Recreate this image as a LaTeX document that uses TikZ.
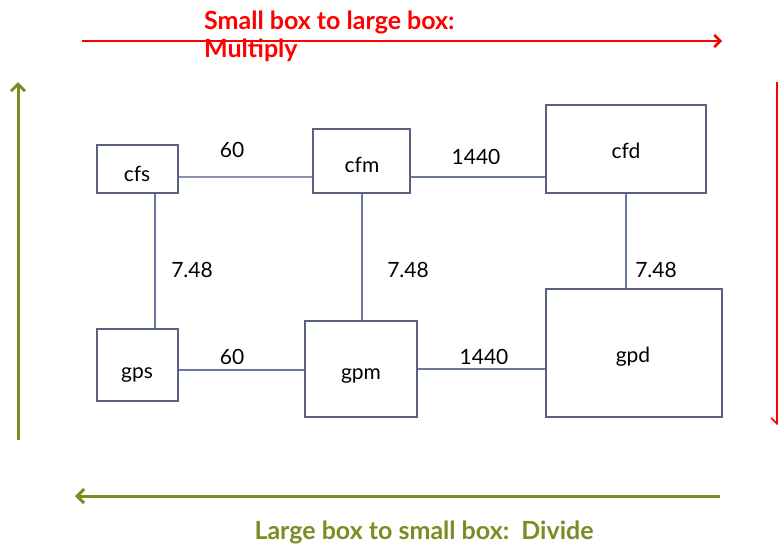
\documentclass[tikz,border=0pt]{standalone}
\usepackage{fontspec}
\setmainfont{Lato}
\usetikzlibrary{arrows.meta}
\definecolor{boxc}{HTML}{59617F}
\definecolor{linec}{HTML}{6B77A0}
\definecolor{olivec}{HTML}{7D8B22}
\definecolor{redc}{HTML}{FF0000}
\begin{document}
\begin{tikzpicture}[x=1pt,y=-1pt,
  box/.style={draw=boxc,line width=1.8pt,inner sep=0pt},
  boxtext/.style={font=\fontsize{21}{24}\selectfont,inner sep=0pt},
  link/.style={draw=linec,line width=2pt},
  thinlink/.style={draw=linec!80,line width=1.4pt},
  num/.style={font=\fontsize{21}{24}\selectfont,inner sep=0pt},
  redarrow/.style={draw=redc,-{Straight Barb[length=6pt,width=12pt]}},
  greenarrow/.style={draw=olivec,line width=3pt,-{Straight Barb[length=7pt,width=14pt]}}]
\useasboundingbox (0,0) rectangle (778,546);
% boxes
\node[box,minimum width=81pt,minimum height=48pt] (cfs) at (137.5,169) {};
\node[box,minimum width=97pt,minimum height=64pt] (cfm) at (361.5,161) {};
\node[box,minimum width=160pt,minimum height=88pt] (cfd) at (626,149) {};
\node[box,minimum width=81pt,minimum height=72pt] (gps) at (137.5,365) {};
\node[box,minimum width=112pt,minimum height=96pt] (gpm) at (361,369) {};
\node[box,minimum width=176pt,minimum height=128pt] (gpd) at (634,353) {};
\node[boxtext] (tcfs) at (137,174) {cfs};
\node[boxtext] (tcfm) at (362,165) {cfm};
\node[boxtext] (tcfd) at (626,151) {cfd};
\node[boxtext] (tgps) at (137,375) {gps};
\node[boxtext] (tgpm) at (361,376) {gpm};
\node[boxtext] (tgpd) at (633,357) {gpd};
% connectors
\draw[thinlink] (cfs.east |- 0,177) -- (cfm.west |- 0,177);
\draw[link] (cfm.east |- 0,177) -- (cfd.west |- 0,177);
\draw[link] (cfs.south -| 155,0) -- (gps.north -| 155,0);
\draw[link] (cfm.south -| 362,0) -- (gpm.north -| 362,0);
\draw[link] (cfd.south -| 626,0) -- (gpd.north -| 626,0);
\draw[link] (gps.east |- 0,370) -- (gpm.west |- 0,370);
\draw[link] (gpm.east |- 0,369) -- (gpd.west |- 0,369);
% labels
\node[num] (n1) at (232,150) {60};
\node[num] (n2) at (476,157) {1440};
\node[num] (n3) at (192,270) {7.48};
\node[num] (n4) at (408,270) {7.48};
\node[num] (n5) at (656,270) {7.48};
\node[num] (n6) at (232,357) {60};
\node[num] (n7) at (484,357) {1440};
% arrows
\coordinate (ra1) at (82,41);
\coordinate (ra2) at (722,41);
\draw[redarrow,line width=2.5pt] (ra1) -- (ra2);
\node[anchor=north west,align=left,text=redc,inner sep=0pt,font=\bfseries\fontsize{25}{28}\selectfont] (rt) at (204,11) {Small box to large box:\\Multiply};
\coordinate (rv1) at (777,82);
\coordinate (rv2) at (777,425);
\draw[redarrow,line width=1.6pt] (rv1) -- (rv2);
\coordinate (gv1) at (18,440);
\coordinate (gv2) at (18,82);
\draw[greenarrow] (gv1) -- (gv2);
\coordinate (gh1) at (720,496);
\coordinate (gh2) at (75,496);
\draw[greenarrow] (gh1) -- (gh2);
\node[text=olivec,inner sep=0pt,font=\bfseries\fontsize{25}{28}\selectfont] (gt) at (424,532) {Large box to small box:\ \ Divide};
\end{tikzpicture}
\end{document}
